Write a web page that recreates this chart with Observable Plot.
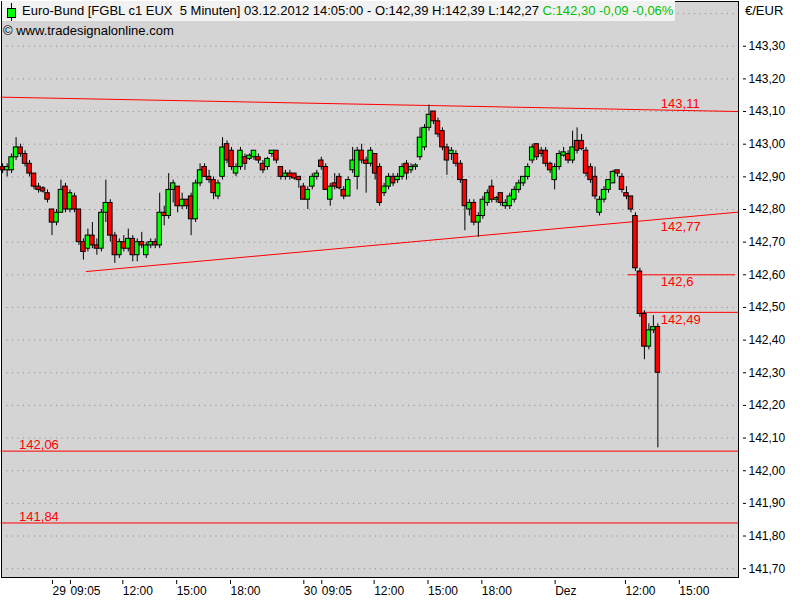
<!DOCTYPE html>
<html><head><meta charset="utf-8">
<script src="https://cdn.jsdelivr.net/npm/d3@7"></script>
<script src="https://cdn.jsdelivr.net/npm/@observablehq/plot@0.6"></script>
<style>
body{margin:0;background:#fff;font-family:"Liberation Sans",Arial,sans-serif;}
#wrap{position:relative;width:800px;height:600px;overflow:hidden;}
#title{position:absolute;left:2px;top:1px;width:673px;height:20px;background:#f2f2f2;font-size:13px;white-space:pre;}
#title span.t{position:absolute;left:20px;top:2px;}
#title svg{position:absolute;left:0;top:0;}
#copy{position:absolute;left:3px;top:23px;font-size:13px;}
#unit{position:absolute;left:745px;top:3px;font-size:13px;}
</style></head><body>
<div id="wrap"><div id="chart"></div>
<div id="title"><svg width="20" height="20"><line x1="9.5" y1="2" x2="9.5" y2="20" stroke="#000"/><rect x="5.5" y="7.5" width="8" height="9" fill="#00ff00" stroke="#000"/></svg><span class="t">Euro-Bund [FGBL c1 EUX  5 Minuten] 03.12.2012 14:05:00 - O:142,39 H:142,39 L:142,27 <span style="color:#00c000">C:142,30 -0,09 -0,06%</span></span></div>
<div id="copy">© www.tradesignalonline.com</div>
<div id="unit">€/EUR</div>
</div>
<script>
// 15-minute aggregated candles (bar index step 3)
const opens = [142.93,142.92,142.92,142.96,142.99,142.97,142.94,142.91,142.87,142.865,142.85,142.80,142.76,142.79,142.87,142.80,142.84,142.80,142.70,142.68,142.72,142.69,142.68,142.79,142.82,142.72,142.66,142.70,142.68,142.71,142.66,142.70,142.66,142.69,142.70,142.69,142.79,142.78,142.86,142.87,142.81,142.83,142.84,142.77,142.88,142.93,142.90,142.89,142.84,142.90,143.00,142.98,142.91,142.93,142.96,142.955,142.96,142.96,142.94,142.93,142.97,142.98,142.93,142.90,142.91,142.91,142.90,142.87,142.83,142.87,142.90,142.95,142.93,142.83,142.88,142.90,142.86,142.84,142.92,142.90,142.98,142.95,142.94,142.97,142.93,142.85,142.87,142.90,142.89,142.90,142.94,142.92,142.93,142.96,142.99,143.05,143.10,143.07,143.04,142.99,142.97,142.97,142.94,142.89,142.80,142.82,142.76,142.78,142.82,142.87,142.83,142.85,142.81,142.81,142.83,142.86,142.88,142.90,142.95,143.00,142.98,142.98,142.94,142.89,142.93,142.965,142.97,142.95,143.01,143.01,142.98,142.93,142.90,142.79,142.83,142.86,142.88,142.92,142.90,142.85,142.84,142.78,142.61,142.48,142.38,142.43,142.44];
const highs = [142.94,142.94,142.97,143.02,143.00,142.98,142.95,142.91,142.88,142.87,142.86,142.80,142.80,142.89,142.88,142.86,142.85,142.80,142.71,142.74,142.76,142.71,142.80,142.89,142.83,142.73,142.71,142.72,142.74,142.72,142.71,142.73,142.70,142.71,142.71,142.85,142.81,142.91,142.89,142.87,142.85,142.83,142.85,142.89,142.94,142.94,142.92,142.90,142.89,143.02,143.01,142.99,142.94,142.99,142.97,142.97,142.98,142.97,142.95,142.96,142.98,142.98,142.93,142.92,142.92,142.91,142.90,142.88,142.87,142.91,142.92,142.96,142.94,142.88,142.91,142.91,142.87,142.90,142.99,142.99,143.00,142.96,142.99,142.97,142.94,142.88,142.91,142.91,142.91,142.94,142.95,142.94,142.94,143.05,143.06,143.12,143.10,143.08,143.05,143.00,142.99,142.98,142.95,142.89,142.83,142.83,142.79,142.84,142.86,142.89,142.84,142.85,142.83,142.85,142.87,142.89,142.90,142.94,143.00,143.00,142.99,142.99,142.945,142.94,142.98,142.99,142.98,143.04,143.05,143.03,142.99,142.94,142.93,142.84,142.87,142.89,142.92,142.92,142.91,142.87,142.84,142.79,142.62,142.49,142.45,142.475,142.45];
const lows = [142.91,142.90,142.91,142.95,142.96,142.93,142.90,142.86,142.85,142.85,142.82,142.72,142.75,142.79,142.79,142.79,142.79,142.69,142.645,142.67,142.68,142.66,142.67,142.76,142.70,142.635,142.65,142.67,142.67,142.64,142.64,142.68,142.65,142.68,142.68,142.68,142.75,142.77,142.82,142.79,142.80,142.80,142.72,142.76,142.87,142.90,142.88,142.83,142.83,142.89,142.94,142.92,142.90,142.92,142.92,142.95,142.95,142.94,142.91,142.92,142.96,142.94,142.89,142.89,142.89,142.89,142.865,142.83,142.80,142.86,142.89,142.92,142.86,142.81,142.86,142.86,142.83,142.84,142.91,142.86,142.94,142.85,142.93,142.89,142.81,142.84,142.86,142.87,142.88,142.89,142.89,142.91,142.92,142.95,142.98,143.04,143.06,143.02,142.98,142.905,142.95,142.93,142.88,142.735,142.78,142.75,142.715,142.77,142.81,142.82,142.82,142.81,142.80,142.80,142.82,142.85,142.87,142.89,142.94,142.95,142.96,142.93,142.91,142.86,142.92,142.96,142.94,142.94,142.97,142.98,142.90,142.88,142.83,142.78,142.82,142.85,142.88,142.90,142.85,142.83,142.79,142.61,142.47,142.34,142.37,142.42,142.07];
const closes = [142.92,142.93,142.96,142.99,142.97,142.94,142.91,142.87,142.86,142.855,142.83,142.76,142.79,142.86,142.80,142.85,142.80,142.70,142.67,142.72,142.69,142.68,142.79,142.82,142.72,142.66,142.70,142.68,142.71,142.66,142.70,142.69,142.69,142.70,142.69,142.79,142.78,142.86,142.88,142.81,142.83,142.81,142.77,142.88,142.92,142.90,142.89,142.85,142.88,142.99,142.95,142.93,142.93,142.98,142.94,142.965,142.98,142.95,142.92,142.955,142.98,142.95,142.90,142.91,142.90,142.895,142.89,142.83,142.86,142.90,142.91,142.93,142.86,142.87,142.87,142.865,142.84,142.89,142.95,142.98,142.95,142.94,142.98,142.91,142.82,142.87,142.90,142.88,142.90,142.93,142.91,142.93,142.935,143.02,143.05,143.09,143.07,143.03,142.99,142.95,142.98,142.94,142.89,142.81,142.82,142.76,142.78,142.83,142.85,142.83,142.835,142.82,142.82,142.84,142.86,142.88,142.90,142.93,142.99,142.96,142.97,142.94,142.92,142.93,142.97,142.975,142.95,142.99,142.98,142.985,142.91,142.89,142.84,142.83,142.86,142.89,142.915,142.91,142.86,142.84,142.80,142.62,142.48,142.38,142.43,142.44,142.30];

// time axis (5-minute bar index) tick positions and labels
const xTickIdx = [33, 45, 80, 116, 152, 201, 213, 248, 284, 320, 369, 416, 452];
const xTickLabels = ["29", "09:05", "12:00", "15:00", "18:00", "30", "09:05", "12:00", "15:00", "18:00", "Dez", "12:00", "15:00"];
const yTicks = [141.7,141.8,141.9,142.0,142.1,142.2,142.3,142.4,142.5,142.6,142.7,142.8,142.9,143.0,143.1,143.2,143.3];
const yGrid = [...yTicks, 143.4];

// drawn levels / trend lines
const upperTrend = [{idx: 0, p: 143.144}, {idx: 493, p: 143.10}];
const lowerTrend = [{idx: 57, p: 142.61}, {idx: 493, p: 142.792}];
const levels = [
  {p: 142.6, from: 419, to: 491},
  {p: 142.485, from: 426, to: 493},
  {p: 142.06, from: 0, to: 493},
  {p: 141.84, from: 0, to: 493}
];
const levelLabels = [
  {idx: 441, p: 143.104, text: "143,11", pos: "above"},
  {idx: 441, p: 142.77, text: "142,77", pos: "below"},
  {idx: 441, p: 142.6, text: "142,6", pos: "below"},
  {idx: 441, p: 142.485, text: "142,49", pos: "below"},
  {idx: 12, p: 142.06, text: "142,06", pos: "above"},
  {idx: 12, p: 141.84, text: "141,84", pos: "above"}
];

const candles = opens.map((o, i) => ({idx: 1 + 3 * i, o, h: highs[i], l: lows[i], c: closes[i]}));
const tickLabel = new Map(xTickIdx.map((d, i) => [d, xTickLabels[i]]));
const RED = "#ff0000", GREEN = "#00ff00";

const chart = Plot.plot({
  width: 800, height: 600,
  marginLeft: 1, marginRight: 62, marginTop: 1, marginBottom: 23,
  style: {fontFamily: "'Liberation Sans', Arial, sans-serif", fontSize: "12px", background: "#fff", color: "#000", overflow: "visible"},
  x: {type: "linear", domain: [0.25, 492.9], axis: null},
  y: {domain: [141.673, 143.437], axis: null},
  marks: [
    Plot.frame({fill: "#d4d4d4"}),
    Plot.ruleY(yGrid, {stroke: "#8a8a8a", strokeDasharray: "1,4.5", strokeWidth: 1}),
    Plot.line(upperTrend, {x: "idx", y: "p", stroke: RED, strokeWidth: 1}),
    Plot.line(lowerTrend, {x: "idx", y: "p", stroke: RED, strokeWidth: 1}),
    Plot.ruleY(levels, {y: "p", x1: "from", x2: "to", stroke: RED, strokeWidth: 1}),
    Plot.ruleX(candles, {x: "idx", y1: "l", y2: "h", stroke: "#000", strokeWidth: 1}),
    Plot.rect(candles, {
      x1: d => d.idx - 1.5, x2: d => d.idx + 1.5,
      y1: d => Math.min(d.o, d.c), y2: d => Math.max(d.o, d.c),
      fill: d => d.c >= d.o ? GREEN : RED, stroke: "#000", strokeWidth: 1
    }),
    Plot.text(levelLabels.filter(d => d.pos === "above"), {
      x: "idx", y: "p", text: "text", textAnchor: "start", lineAnchor: "bottom",
      dy: -2, fill: RED, fontSize: 13
    }),
    Plot.text(levelLabels.filter(d => d.pos === "below"), {
      x: "idx", y: "p", text: "text", textAnchor: "start", lineAnchor: "top",
      dy: 2, fill: RED, fontSize: 13
    }),
    Plot.frame({stroke: "#000", strokeWidth: 1}),
    Plot.axisY({anchor: "right", ticks: yTicks, tickFormat: d => d.toFixed(2).replace(".", ","), tickSize: 3, dx: 4, tickPadding: 3, fontSize: 12}),
    Plot.axisX({anchor: "bottom", ticks: xTickIdx, tickFormat: d => tickLabel.get(d), tickSize: 4, dy: 3, tickPadding: 2, textAnchor: "start", dx: 2, fontSize: 12})
  ]
});
document.getElementById("chart").appendChild(chart);
</script>
</body></html>
